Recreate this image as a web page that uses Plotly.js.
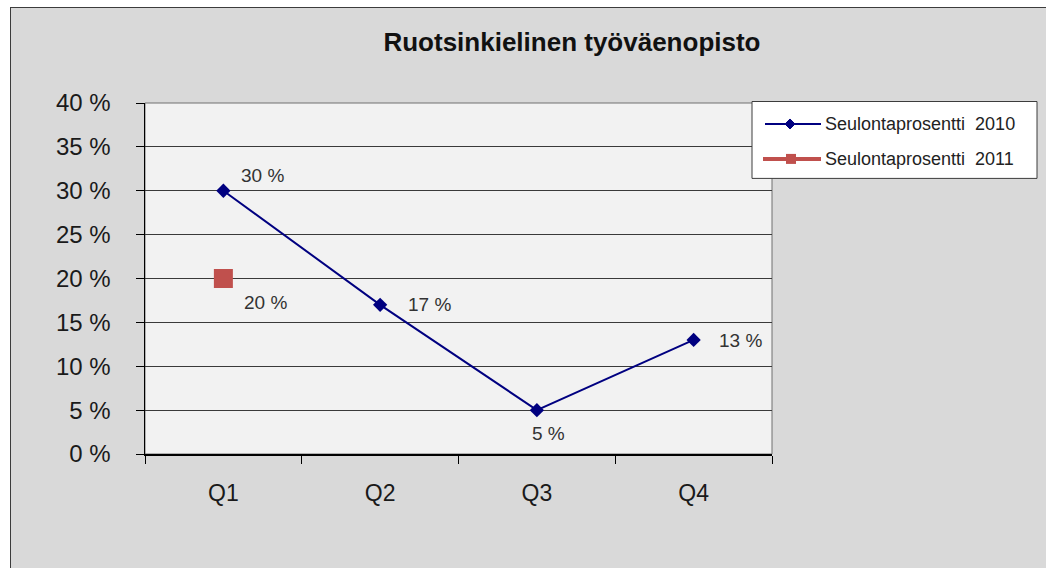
<!DOCTYPE html>
<html>
<head>
<meta charset="utf-8">
<script src="https://cdn.plot.ly/plotly-3.0.1.min.js"></script>
<style>
  body { margin: 0; background: #ffffff; overflow: hidden; }
  #frame {
    position: absolute; left: 10px; top: 7px;
    width: 1040px; height: 600px;
    border-left: 1px solid #3c3c3c; border-top: 1px solid #3c3c3c;
    background: #d9d9d9;
  }
  #chart { width: 1035px; height: 560px; }
</style>
</head>
<body>
<div id="frame"><div id="chart"></div></div>
<script>
// Quarters and screening percentages
const quarters = ['Q1', 'Q2', 'Q3', 'Q4'];
const rate2010 = [30, 17, 5, 13];
const rate2011 = [20, null, null, null];
const seriesNames = ['Seulontaprosentti  2010', 'Seulontaprosentti  2011'];
const yTicks = [0, 5, 10, 15, 20, 25, 30, 35, 40];

// label offsets from the point (px), style only
const shift2010 = [[39, 15], [49, 0], [12, -23], [47, -1]];
const shift2011 = [[42, -24]];

const FONT = "'Liberation Sans', Arial, sans-serif";
const BLUE = '#000080';
const RED = '#c0504d';
const label = v => v + ' %';

const traces = [
    {
        x: quarters,
        y: rate2010,
        name: seriesNames[0],
        type: 'scatter',
        mode: 'lines+markers',
        line: { color: BLUE, width: 2 },
        marker: { color: BLUE, symbol: 'diamond', size: 11 },
        cliponaxis: false,
        showlegend: false,
    },
    {
        x: quarters,
        y: rate2011,
        name: seriesNames[1],
        type: 'scatter',
        mode: 'lines+markers',
        line: { color: RED, width: 4 },
        marker: { color: RED, symbol: 'square', size: 19 },
        cliponaxis: false,
        showlegend: false,
    },
];

// data labels
const annotations = [];
rate2010.forEach((v, i) => {
    annotations.push({
        x: quarters[i], y: v, xref: 'x', yref: 'y',
        text: label(v), showarrow: false,
        xshift: shift2010[i][0], yshift: shift2010[i][1],
        font: { family: FONT, size: 19, color: '#333333' },
    });
});
rate2011.forEach((v, i) => {
    if (v === null) return;
    annotations.push({
        x: quarters[i], y: v, xref: 'x', yref: 'y',
        text: label(v), showarrow: false,
        xshift: shift2011[i][0], yshift: shift2011[i][1],
        font: { family: FONT, size: 19, color: '#333333' },
    });
});

// legend box drawn by hand (plot area = 627 x 351.5 px)
const PW = 627, PH = 351.5;
const px = p => p / PW;          // px offset from plot left -> paper x
const py = p => 1 - p / PH;      // px offset from plot top -> paper y
const legendRows = [21, 56];
const shapes = [
    {
        type: 'rect', xref: 'paper', yref: 'paper',
        x0: 0, x1: 1, y0: 0, y1: 1,
        line: { color: '#707070', width: 1 },
        layer: 'below',
    },
    {
        type: 'rect', xref: 'paper', yref: 'paper',
        x0: px(607), x1: px(892), y0: py(-1.5), y1: py(75.5),
        fillcolor: '#ffffff', line: { color: '#3c3c3c', width: 1 },
    },
    {
        type: 'line', xref: 'paper', yref: 'paper',
        x0: px(620), x1: px(676), y0: py(legendRows[0]), y1: py(legendRows[0]),
        line: { color: BLUE, width: 2 },
    },
    {
        type: 'path', xref: 'paper', yref: 'paper',
        xsizemode: 'pixel', ysizemode: 'pixel',
        xanchor: px(645), yanchor: py(legendRows[0]),
        path: 'M -5 0 L 0 5 L 5 0 L 0 -5 Z',
        fillcolor: BLUE, line: { color: BLUE, width: 1 },
    },
    {
        type: 'line', xref: 'paper', yref: 'paper',
        x0: px(618), x1: px(676), y0: py(legendRows[1]), y1: py(legendRows[1]),
        line: { color: RED, width: 4 },
    },
    {
        type: 'rect', xref: 'paper', yref: 'paper',
        xsizemode: 'pixel', ysizemode: 'pixel',
        xanchor: px(646), yanchor: py(legendRows[1]),
        x0: -5, x1: 5, y0: -5, y1: 5,
        fillcolor: RED, line: { color: RED, width: 0 },
    },
];
seriesNames.forEach((name, i) => {
    annotations.push({
        x: px(678), y: py(legendRows[i]), xref: 'paper', yref: 'paper',
        xanchor: 'left', yanchor: 'middle',
        text: name.replace('  ', '&nbsp; '), showarrow: false,
        font: { family: FONT, size: 18, color: '#222222' },
    });
});

const layout = {
    width: 1035,
    height: 560,
    paper_bgcolor: '#d9d9d9',
    plot_bgcolor: '#f2f2f2',
    font: { family: FONT, color: '#222222' },
    margin: { l: 134, r: 274, t: 94.5, b: 114 },
    title: {
        text: '<b>Ruotsinkielinen työväenopisto</b>',
        font: { family: FONT, size: 26, color: '#111111' },
        x: 0.542,
        xanchor: 'center',
        y: 0.939,
        yanchor: 'middle',
    },
    showlegend: false,
    xaxis: {
        type: 'category',
        range: [-0.5, 3.5],
        tickson: 'boundaries',
        ticks: 'outside',
        ticklen: 8,
        tickcolor: '#000000',
        showline: true,
        linecolor: '#000000',
        linewidth: 1.5,
        showgrid: false,
        ticklabelstandoff: 18,
        tickfont: { family: FONT, size: 23, color: '#1a1a1a' },
        fixedrange: true,
    },
    yaxis: {
        range: [0, 40],
        tickvals: yTicks,
        ticktext: yTicks.map(label),
        ticks: 'outside',
        ticklen: 8,
        tickcolor: '#000000',
        showline: true,
        linecolor: '#000000',
        linewidth: 1.5,
        gridcolor: '#3a3a3a',
        gridwidth: 1.2,
        zeroline: false,
        ticklabelstandoff: 20,
        tickfont: { family: FONT, size: 24, color: '#1a1a1a' },
        fixedrange: true,
    },
    shapes,
    annotations,
};

Plotly.newPlot('chart', traces, layout, { displayModeBar: false, staticPlot: true });
</script>
</body>
</html>
